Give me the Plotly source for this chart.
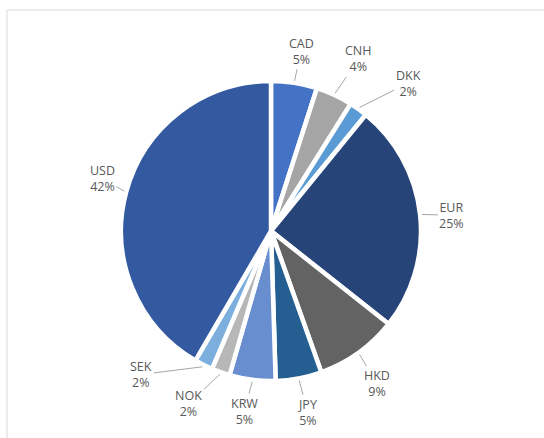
import math
import plotly.graph_objects as go

# ---- data ----
currencies = ["CAD", "CNH", "DKK", "EUR", "HKD", "JPY", "KRW", "NOK", "SEK", "USD"]
shares = [5, 4, 2, 25, 9, 5, 5, 2, 2, 42]
colors = ["#4472C4", "#A5A5A5", "#5B9BD5", "#264478", "#636363",
          "#255E91", "#698ED0", "#B7B7B7", "#7CAFDD", "#335AA1"]

# ---- layout / style ----
W, H = 544, 438
CX, CY, R = 271, 231, 150          # pie centre & radius in pixels
LABEL_R = R + 32                    # default radial label distance
label_nudge = {                     # pixel nudges of label centres
    "CAD": (2, 0), "CNH": (11, -7), "DKK": (31, 0), "EUR": (0, 4),
    "HKD": (0, 5), "JPY": (3, 3), "KRW": (-4, 0), "NOK": (-21, 1),
    "SEK": (-48, -19), "USD": (7, -5),
}
FONT = dict(family="Open Sans, Noto Sans, sans-serif", size=12.5, color="#595959")

fig = go.Figure(go.Pie(
    labels=currencies,
    values=shares,
    sort=False,
    direction="clockwise",
    rotation=0,
    textinfo="none",
    hoverinfo="label+percent",
    marker=dict(colors=colors, line=dict(color="white", width=4.5)),
    domain=dict(x=[(CX - R) / W, (CX + R) / W],
                y=[(H - CY - R) / H, (H - CY + R) / H]),
    showlegend=False,
))

total = sum(shares)
annotations = []
cum = 0
for name, v in zip(currencies, shares):
    mid = (cum + v / 2) / total * 2 * math.pi
    cum += v
    tipx = CX + (R + 2) * math.sin(mid)
    tipy = CY - (R + 2) * math.cos(mid)
    dx, dy = label_nudge.get(name, (0, 0))
    tx = CX + LABEL_R * math.sin(mid) + dx
    ty = CY - LABEL_R * math.cos(mid) + dy
    annotations.append(dict(
        x=tipx / W, y=1 - tipy / H, xref="paper", yref="paper",
        text=f"{name}<br>{v}%", showarrow=True, arrowhead=0,
        arrowwidth=1, arrowcolor="#A6A6A6",
        ax=tx - tipx, ay=ty - tipy, axref="pixel", ayref="pixel",
        font=FONT, align="center", standoff=0, startstandoff=0,
    ))

fig.update_layout(
    width=W, height=H,
    margin=dict(l=0, r=0, t=0, b=0),
    paper_bgcolor="white",
    plot_bgcolor="white",
    annotations=annotations,
    shapes=[
        dict(type="line", xref="paper", yref="paper",
             x0=7 / W, x1=7 / W, y0=0, y1=1 - 10 / H,
             line=dict(color="#D9D9D9", width=1)),
        dict(type="line", xref="paper", yref="paper",
             x0=7 / W, x1=1, y0=1 - 10 / H, y1=1 - 10 / H,
             line=dict(color="#D9D9D9", width=1)),
    ],
)

fig.write_html("out.html",
               config={"displayModeBar": False},
               post_script="document.body.style.margin='0';document.body.style.overflow='hidden';")
